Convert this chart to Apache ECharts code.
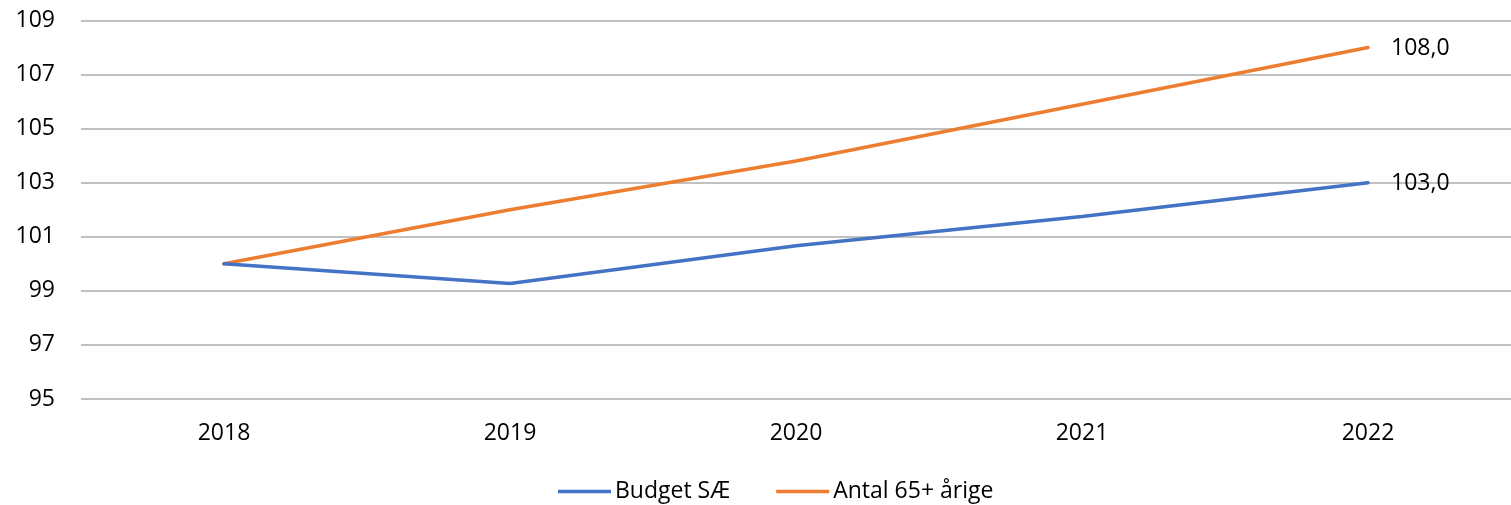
<!DOCTYPE html>
<html>
<head>
<meta charset="utf-8">
<script src="https://cdn.jsdelivr.net/npm/echarts@6/dist/echarts.min.js"></script>
<style>
html,body{margin:0;padding:0;background:#fff;}
#c{width:1511px;height:505px;}
</style>
</head>
<body>
<div id="c"></div>
<script>
const categories = ['2018', '2019', '2020', '2021', '2022'];
const budgetSAE = [100.0, 99.27, 100.67, 101.75, 103.0];
const antal65 = [100.0, 102.0, 103.8, 105.9, 108.0];
const yTicks = { min: 95, max: 109, interval: 2 };
const seriesNames = ['Budget SÆ', 'Antal 65+ årige'];

const font = '"Open Sans", "Noto Sans", sans-serif';
const fs = 23;
const chart = echarts.init(document.getElementById('c'));

function endLbl() {
  return {
    show: true,
    distance: 23,
    offset: [0, 1],
    fontFamily: font,
    fontSize: fs,
    color: '#000',
    formatter: p => Number(p.value).toFixed(1).replace('.', ',')
  };
}

chart.setOption({
  animation: false,
  grid: { left: 81, right: 0, top: 20.5, bottom: 106, containLabel: false },
  legend: {
    top: 475,
    left: 553,
    icon: 'rect',
    itemWidth: 53,
    itemHeight: 3.5,
    itemGap: 46,
    textStyle: { fontFamily: font, fontSize: fs, color: '#000', padding: [0, 0, 0, -1] },
    data: seriesNames
  },
  xAxis: {
    type: 'category',
    data: categories,
    boundaryGap: true,
    axisLine: { show: false },
    axisTick: { show: false },
    axisLabel: { fontFamily: font, fontSize: fs, color: '#000', margin: 23 }
  },
  yAxis: {
    type: 'value',
    min: yTicks.min,
    max: yTicks.max,
    interval: yTicks.interval,
    axisLine: { show: false },
    axisTick: { show: false },
    axisLabel: { fontFamily: font, fontSize: fs, color: '#000', margin: 26 },
    splitLine: { lineStyle: { color: '#ADADAD', width: 1.5 } }
  },
  series: [
    {
      name: seriesNames[0],
      type: 'line',
      data: budgetSAE,
      symbol: 'none',
      lineStyle: { color: '#4472C4', width: 3.5, cap: 'round' },
      itemStyle: { color: '#4472C4' },
      endLabel: endLbl(),
      z: 3
    },
    {
      name: seriesNames[1],
      type: 'line',
      data: antal65,
      symbol: 'none',
      lineStyle: { color: '#ED7D31', width: 3.5, cap: 'round' },
      itemStyle: { color: '#ED7D31' },
      endLabel: endLbl(),
      z: 2
    }
  ]
});
</script>
</body>
</html>
